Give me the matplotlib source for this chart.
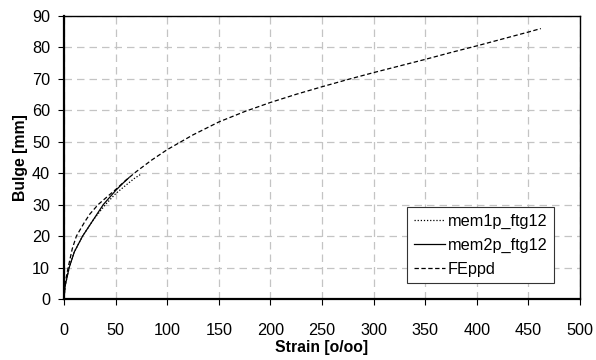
import matplotlib
matplotlib.use("Agg")
import matplotlib.pyplot as plt

plt.rcParams["font.family"] = ["Liberation Sans", "DejaVu Sans"]

# bulge vs. strain curves
mem1p_x = [0, 1, 5, 10, 18, 28, 40, 50, 60, 68, 75]
mem1p_y = [0, 4, 10, 15, 20, 25, 30, 33.5, 36.2, 38.3, 39.8]

mem2p_x = [0, 1, 5, 10, 18, 28, 38, 50, 57, 63]
mem2p_y = [0, 4, 10, 15, 20, 25, 30, 34.5, 36.8, 38.6]

fe_x = [0, 1, 4, 8, 12, 20, 25, 33, 40, 50, 60, 70, 85, 100, 125, 150, 175, 200,
        225, 250, 275, 300, 325, 350, 375, 400, 425, 450, 462]
fe_y = [0, 5, 10, 16, 20, 24.5, 27, 30, 32, 34.8, 37.8, 40.5, 44.2, 47.5, 52.2, 56.3,
        59.6, 62.5, 65.1, 67.5, 69.8, 72, 74.1, 76.2, 78.4, 80.5, 82.7, 84.9, 86]

x_ticks = list(range(0, 501, 50))
y_ticks = list(range(0, 91, 10))

fig = plt.figure(figsize=(5.96, 3.6), dpi=100)
ax = fig.add_axes([0.1074, 0.1694, 0.8658, 0.7862])

ax.plot(mem1p_x, mem1p_y, color="black", lw=0.9, ls=(0, (1, 1.5)), label="mem1p_ftg12")
ax.plot(mem2p_x, mem2p_y, color="black", lw=0.9, ls="-", label="mem2p_ftg12")
ax.plot(fe_x, fe_y, color="black", lw=0.9, ls=(0, (3.5, 2)), label="FEppd")

ax.set_xlim(0, 500)
ax.set_ylim(0, 90)
ax.set_xticks(x_ticks)
ax.set_yticks(y_ticks)
ax.grid(True, color="#c4c4c4", ls=(0, (6, 4)), lw=0.9)
ax.set_axisbelow(True)

ax.tick_params(axis="both", direction="out", length=4, width=0.8, labelsize=11.7)
ax.tick_params(axis="x", pad=13)
ax.tick_params(axis="y", pad=6)
for side in ["left", "bottom"]:
    ax.spines[side].set_linewidth(1.6)
for side in ["top", "right"]:
    ax.spines[side].set_linewidth(1.0)

ax.set_xlabel("Strain [o/oo]", fontsize=11.3, fontweight="bold", labelpad=2)
ax.set_ylabel("Bulge [mm]", fontsize=11.3, fontweight="bold", labelpad=3)

leg = ax.legend(loc="lower left", bbox_to_anchor=(0.665, 0.0565), fontsize=11.7,
                handlelength=1.9, handletextpad=0.2, labelspacing=0.55,
                borderpad=0.4, borderaxespad=0, fancybox=False, framealpha=1)
leg.get_frame().set_edgecolor("#333333")
leg.get_frame().set_linewidth(0.8)

fig.savefig("out.png", dpi=100)
